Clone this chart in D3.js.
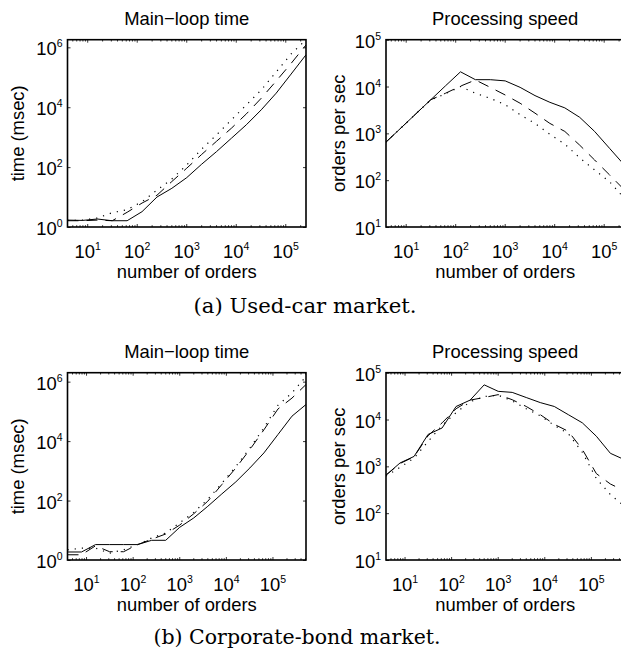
<!DOCTYPE html>
<html lang="en">
<head>
<meta charset="UTF-8">
<title>Main-loop time and processing speed</title>
<style>
  body { margin: 0; background: #fff; }
  svg { display: block; }
  text { fill: #000; }
</style>
</head>
<body>
<svg id="fig"></svg>
<script src="https://d3js.org/d3.v7.min.js"></script>
<script>
// number of orders (x) for each market
const ordersUsed = [4, 8, 16, 32, 64, 128, 256, 512, 1024, 2048, 4096, 8192, 16384, 32768, 65536, 131072, 262144];
const ordersBond = [4, 8, 16, 32, 64, 128, 256, 512, 1024, 2048, 4096, 8192, 16384, 32768, 65536, 131072, 262144, 524288];

// (a) used-car market, main-loop time in msec
const usedTimeSolid  = [1.7, 1.66, 1.85, 1.62, 1.62, 3.25, 10, 19.6, 44.6, 125, 330, 925, 2600, 8200, 29500, 128000, 564000];
const usedTimeDashed = [1.62, 1.62, 1.7, 1.62, 3.1, 6.3, 11.5, 33, 92, 265, 730, 2000, 6000, 20000, 75000, 290000, 1200000];
const usedTimeDotted = [1.65, 1.7, 2.0, 3.0, 3.8, 7, 17, 40, 118, 400, 1200, 3800, 12000, 38000, 150000, 600000, 1800000];

// (a) used-car market, orders per sec
const usedSpeedSolid  = [650, 1300, 2600, 5200, 10400, 20600, 14000, 14000, 13200, 9600, 6400, 4600, 3500, 2200, 1100, 480, 210];
const usedSpeedDashed = [650, 1300, 2600, 5200, 7200, 10200, 13800, 9600, 6600, 4400, 2700, 1630, 1100, 560, 270, 130, 62];
const usedSpeedDotted = [650, 1300, 2600, 5200, 7000, 10000, 7200, 5600, 4100, 2500, 1630, 950, 590, 300, 165, 93, 41];

// (b) corporate-bond market, main-loop time in msec
const bondTimeSolid  = [1.86, 1.86, 3.3, 3.3, 3.3, 3.3, 4.6, 4.6, 12.6, 26, 64, 167, 425, 1250, 4000, 16600, 69000, 170000];
const bondTimeDashed = [1.5, 1.5, 3.0, 1.9, 1.9, 3.3, 5.0, 7.5, 15, 36, 95, 345, 1250, 5200, 24000, 120000, 280000, 800000];
const bondTimeDotted = [2.2, 2.5, 2.5, 1.7, 2.2, 3.3, 5.5, 8.1, 18, 40, 110, 380, 1400, 5800, 28000, 160000, 420000, 1500000];

// (b) corporate-bond market, orders per sec
const bondSpeedSolid  = [650, 1180, 1630, 4800, 6600, 19000, 26000, 55000, 40000, 38000, 29500, 23000, 19000, 12700, 8500, 4400, 1900, 1390];
const bondSpeedDashed = [650, 1150, 1600, 4500, 8500, 17000, 26000, 29500, 34000, 26500, 19000, 12700, 7900, 5600, 2300, 700, 420, 300];
const bondSpeedDotted = [620, 950, 1500, 3400, 7500, 14000, 24000, 31000, 33000, 25000, 17000, 12000, 7500, 5000, 2000, 550, 250, 140];

const xTickExp = [1, 2, 3, 4, 5];
const timeTickExp = [0, 2, 4, 6];
const speedTickExp = [1, 2, 3, 4, 5];

const width = 621, height = 656;
const font = '"Liberation Sans", Arial, sans-serif';

const svg = d3.select('#fig')
  .attr('width', width)
  .attr('height', height);

const cols = [[67.5, 306], [386, 624.4]];
const rows = [[39.7, 227], [372.7, 560]];

const lineStyles = [
  { dash: null, width: 1 },
  { dash: '11,8', width: 1 },
  { dash: '1.2,6', width: 1.2 }
];

function supLabel(sel, exps) {
  sel.text('10')
    .append('tspan')
    .attr('dy', -8)
    .attr('font-size', 10.5)
    .text((d, i) => exps[i]);
}

function drawPanel(id, col, row, cfg) {
  const [x0, x1] = cols[col];
  const [y0, y1] = rows[row];
  const x = d3.scaleLog().domain(cfg.xDomain).range([x0, x1]);
  const y = d3.scaleLog().domain(cfg.yDomain).range([y1, y0]);
  const g = svg.append('g').attr('font-family', font);

  const xMajor = xTickExp.map(e => Math.pow(10, e));
  const yMajor = cfg.yExp.map(e => Math.pow(10, e));
  const xMinor = [];
  for (let e = 0; e <= 5; e++) {
    for (let m = 2; m <= 9; m++) {
      const v = m * Math.pow(10, e);
      if (v > cfg.xDomain[0] && v < cfg.xDomain[1]) xMinor.push(v);
    }
  }

  g.append('clipPath').attr('id', 'clip' + id)
    .append('rect')
    .attr('x', x0).attr('y', y0)
    .attr('width', x1 - x0).attr('height', y1 - y0);

  // series
  const line = d3.line().x(d => x(d[0])).y(d => y(d[1]));
  cfg.series.forEach((s, i) => {
    const st = lineStyles[i];
    g.append('path')
      .datum(cfg.xs.map((v, j) => [v, s[j]]))
      .attr('clip-path', `url(#clip${id})`)
      .attr('fill', 'none')
      .attr('stroke', '#000')
      .attr('stroke-width', st.width)
      .attr('stroke-dasharray', st.dash)
      .attr('d', line);
  });

  // axes: inward ticks on all four sides
  const bottom = g.append('g')
    .attr('transform', `translate(0,${y1})`)
    .call(d3.axisBottom(x).tickValues(xMajor).tickSizeInner(-3).tickSizeOuter(0));
  bottom.selectAll('.tick text')
    .attr('y', 31).attr('dy', null)
    .attr('font-size', 18.4)
    .call(supLabel, xTickExp);

  g.append('g')
    .attr('transform', `translate(0,${y1})`)
    .call(d3.axisBottom(x).tickValues(xMinor).tickSizeInner(-1.8).tickSizeOuter(0).tickFormat(''));
  g.append('g')
    .attr('transform', `translate(0,${y0})`)
    .call(d3.axisTop(x).tickValues(xMajor).tickSizeInner(-3).tickSizeOuter(0).tickFormat(''));
  g.append('g')
    .attr('transform', `translate(0,${y0})`)
    .call(d3.axisTop(x).tickValues(xMinor).tickSizeInner(-1.8).tickSizeOuter(0).tickFormat(''));

  const left = g.append('g')
    .attr('transform', `translate(${x0},0)`)
    .call(d3.axisLeft(y).tickValues(yMajor).tickSizeInner(-3).tickSizeOuter(0).tickPadding(5));
  left.selectAll('.tick text')
    .attr('dy', 7.5)
    .attr('font-size', 18.4)
    .call(supLabel, cfg.yExp);

  g.append('g')
    .attr('transform', `translate(${x1},0)`)
    .call(d3.axisRight(y).tickValues(yMajor).tickSizeInner(-3).tickSizeOuter(0).tickFormat(''));

  g.selectAll('.domain').remove();
  g.selectAll('.tick line').attr('stroke', '#000').attr('stroke-width', 0.8);
  g.selectAll('.tick text').attr('fill', '#000').attr('font-family', font);

  // box
  g.append('rect')
    .attr('x', x0).attr('y', y0)
    .attr('width', x1 - x0).attr('height', y1 - y0)
    .attr('fill', 'none')
    .attr('stroke', '#000')
    .attr('stroke-width', 1.6);

  // titles and labels
  g.append('text')
    .attr('x', (x0 + x1) / 2).attr('y', y0 - 14.7)
    .attr('text-anchor', 'middle')
    .attr('font-size', 18.4)
    .text(cfg.title);

  g.append('text')
    .attr('x', (x0 + x1) / 2).attr('y', y1 + 51.3)
    .attr('text-anchor', 'middle')
    .attr('font-size', 18.4)
    .text('number of orders');

  g.append('text')
    .attr('transform', `translate(${x0 - cfg.yLabelGap},${(y0 + y1) / 2}) rotate(-90)`)
    .attr('text-anchor', 'middle')
    .attr('font-size', 18.4)
    .text(cfg.yLabel);
}

drawPanel('a1', 0, 0, {
  title: 'Main\u2212loop time', yLabel: 'time (msec)', yLabelGap: 44,
  xs: ordersUsed, xDomain: [4, 262144], yDomain: [1, 1.8e6], yExp: timeTickExp,
  series: [usedTimeSolid, usedTimeDashed, usedTimeDotted]
});
drawPanel('a2', 1, 0, {
  title: 'Processing speed', yLabel: 'orders per sec', yLabelGap: 41,
  xs: ordersUsed, xDomain: [4, 262144], yDomain: [10, 1e5], yExp: speedTickExp,
  series: [usedSpeedSolid, usedSpeedDashed, usedSpeedDotted]
});
drawPanel('b1', 0, 1, {
  title: 'Main\u2212loop time', yLabel: 'time (msec)', yLabelGap: 44,
  xs: ordersBond, xDomain: [4, 524288], yDomain: [1, 2e6], yExp: timeTickExp,
  series: [bondTimeSolid, bondTimeDashed, bondTimeDotted]
});
drawPanel('b2', 1, 1, {
  title: 'Processing speed', yLabel: 'orders per sec', yLabelGap: 41,
  xs: ordersBond, xDomain: [4, 524288], yDomain: [10, 1e5], yExp: speedTickExp,
  series: [bondSpeedSolid, bondSpeedDashed, bondSpeedDotted]
});

// sub-figure captions
const serif = '"DejaVu Serif", "Liberation Serif", serif';
svg.append('text')
  .attr('x', 305).attr('y', 313)
  .attr('text-anchor', 'middle')
  .attr('font-family', serif).attr('font-size', 20.5)
  .attr('textLength', 223).attr('lengthAdjust', 'spacingAndGlyphs')
  .text('(a) Used-car market.');
svg.append('text')
  .attr('x', 297).attr('y', 644)
  .attr('text-anchor', 'middle')
  .attr('font-family', serif).attr('font-size', 20.5)
  .attr('textLength', 287).attr('lengthAdjust', 'spacingAndGlyphs')
  .text('(b) Corporate-bond market.');
</script>
</body>
</html>
